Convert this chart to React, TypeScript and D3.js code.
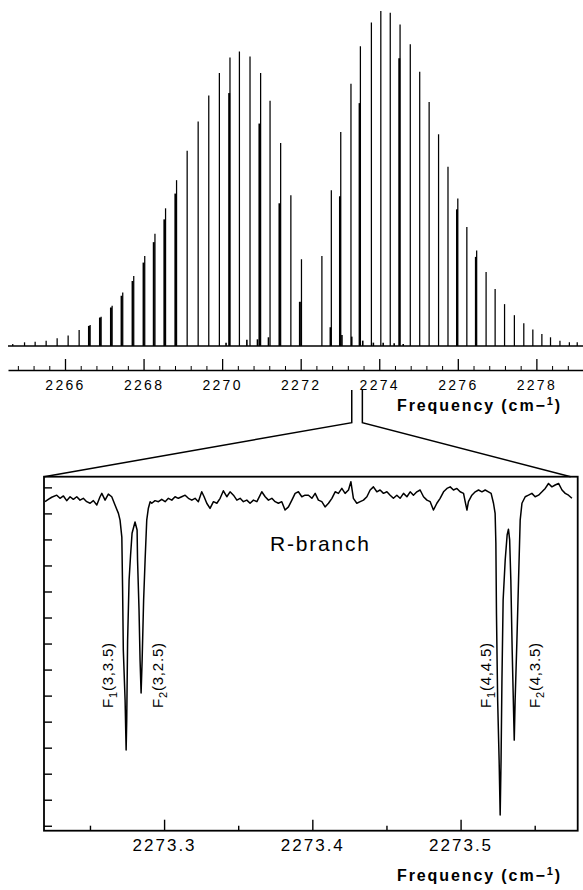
import React, { useRef, useEffect } from 'react';
import * as d3 from 'd3';

const W = 583;
const H = 890;

// survey spectrum: line positions (cm-1) and relative intensities
const lineFreqs = [
  2264.67, 2264.97, 2265.24, 2265.52, 2265.80, 2266.08, 2266.36, 2266.64, 2266.92, 2267.20,
  2267.47, 2267.75, 2268.03, 2268.29, 2268.56, 2268.84, 2269.11, 2269.39, 2269.66, 2269.93,
  2270.20, 2270.44, 2270.71, 2270.98, 2271.22, 2271.49, 2271.75, 2272.02, 2272.54, 2272.78,
  2273.02, 2273.28, 2273.52, 2273.80, 2274.04, 2274.28, 2274.53, 2274.79, 2275.03, 2275.27,
  2275.51, 2275.75, 2276.00, 2276.23, 2276.48, 2276.72, 2276.95, 2277.19, 2277.44, 2277.68,
  2277.91, 2278.14, 2278.36, 2278.60, 2278.84, 2279.04
];
const lineInts = [
  0.6, 1.1, 1.3, 1.6, 2.3, 3.1, 4.8, 6.3, 8.7, 12.0,
  16.0, 20.9, 26.9, 33.5, 41.1, 49.5, 58.3, 67.0, 74.8, 81.5,
  86.1, 87.9, 86.4, 81.5, 73.2, 60.6, 45.0, 25.9, 26.9, 46.5,
  63.9, 78.3, 89.5, 96.6, 100, 99.5, 96.0, 90.1, 81.9, 72.8,
  63.2, 53.5, 44.0, 35.5, 28.5, 22.1, 17.0, 12.5, 9.2, 6.8,
  4.9, 3.6, 2.6, 1.6, 1.1, 1.1
];

// weaker doublet partners (drawn heavier)
const partnerFreqs = [
  2266.61, 2266.89, 2267.17, 2267.44, 2267.72, 2268.00, 2268.26, 2268.53, 2268.81, 2270.18,
  2270.95, 2271.46, 2271.98, 2272.76, 2273.00, 2273.50, 2274.51, 2275.98, 2276.46
];
const partnerInts = [
  6.0, 8.5, 11.5, 15.0, 19.4, 24.9, 31.0, 37.8, 45.5, 75.5,
  66.4, 42.6, 13.2, 5.6, 44.7, 72.5, 85.9, 40.8, 26.6
];

// small hot-band stubs near the baseline
const hotFreqs = [2270.10, 2270.63, 2270.90, 2271.18, 2273.05, 2273.30, 2273.58, 2273.85, 2274.10, 2274.38, 2274.61];
const hotInts = [1.0, 1.9, 2.0, 2.6, 3.3, 2.8, 1.6, 1.0, 1.0, 0.8, 0.6];

const topMajorTicks = [2266, 2268, 2270, 2272, 2274, 2276, 2278];
// where the zoom window sits on the survey axis
const markFreqs = [2273.30, 2273.57];

// zoomed diode-laser trace
const zoomFreqs = [
  2273.2197, 2273.2219, 2273.2242, 2273.2276, 2273.2298, 2273.2321, 2273.2343, 2273.2366, 2273.2388, 2273.2411,
  2273.2433, 2273.2455, 2273.2478, 2273.2501, 2273.2523, 2273.2546, 2273.2568, 2273.2580, 2273.2602, 2273.2624,
  2273.2647, 2273.2669, 2273.2692, 2273.2703, 2273.2715, 2273.2720, 2273.2725, 2273.2737, 2273.2744, 2273.2748,
  2273.2754, 2273.2764, 2273.2774, 2273.2784, 2273.2804, 2273.2818, 2273.2821, 2273.2831, 2273.2838, 2273.2845,
  2273.2852, 2273.2862, 2273.2872, 2273.2883, 2273.2894, 2273.2906, 2273.2917, 2273.2939, 2273.2962, 2273.2984,
  2273.3007, 2273.3029, 2273.3052, 2273.3074, 2273.3096, 2273.3119, 2273.3142, 2273.3164, 2273.3187, 2273.3209,
  2273.3231, 2273.3254, 2273.3270, 2273.3288, 2273.3310, 2273.3333, 2273.3356, 2273.3378, 2273.3400, 2273.3423,
  2273.3445, 2273.3468, 2273.3491, 2273.3513, 2273.3535, 2273.3558, 2273.3580, 2273.3603, 2273.3626, 2273.3648,
  2273.3659, 2273.3682, 2273.3704, 2273.3727, 2273.3749, 2273.3771, 2273.3794, 2273.3816, 2273.3839, 2273.3862,
  2273.3884, 2273.3906, 2273.3929, 2273.3951, 2273.3974, 2273.3997, 2273.4019, 2273.4041, 2273.4064, 2273.4086,
  2273.4109, 2273.4132, 2273.4154, 2273.4176, 2273.4199, 2273.4221, 2273.4244, 2273.4260, 2273.4277, 2273.4300,
  2273.4323, 2273.4345, 2273.4368, 2273.4390, 2273.4412, 2273.4435, 2273.4457, 2273.4480, 2273.4503, 2273.4525,
  2273.4547, 2273.4570, 2273.4592, 2273.4615, 2273.4638, 2273.4660, 2273.4682, 2273.4705, 2273.4727, 2273.4750,
  2273.4773, 2273.4795, 2273.4817, 2273.4840, 2273.4862, 2273.4885, 2273.4908, 2273.4930, 2273.4952, 2273.4975,
  2273.4997, 2273.5020, 2273.5031, 2273.5043, 2273.5053, 2273.5076, 2273.5099, 2273.5121, 2273.5144, 2273.5166,
  2273.5188, 2273.5206, 2273.5222, 2273.5233, 2273.5238, 2273.5242, 2273.5250, 2273.5260, 2273.5267, 2273.5273,
  2273.5279, 2273.5287, 2273.5301, 2273.5314, 2273.5323, 2273.5331, 2273.5339, 2273.5348, 2273.5362, 2273.5368,
  2273.5380, 2273.5391, 2273.5402, 2273.5414, 2273.5436, 2273.5458, 2273.5481, 2273.5503, 2273.5526, 2273.5549,
  2273.5571, 2273.5593, 2273.5616, 2273.5638, 2273.5661, 2273.5684, 2273.5706, 2273.5728, 2273.5751
];
const zoomSignal = [
  12.45, 12.54, 12.62, 12.70, 12.58, 12.67, 12.49, 12.64, 12.54, 12.64,
  12.51, 12.58, 12.45, 12.39, 12.49, 12.32, 12.64, 12.77, 12.51, 12.74,
  12.64, 12.32, 12.00, 11.74, 11.09, 9.17, 6.75, 4.83, 2.91, 4.06,
  7.13, 9.44, 10.40, 11.24, 11.67, 11.36, 10.21, 8.29, 6.37, 5.10,
  6.37, 8.67, 10.21, 11.74, 12.20, 12.45, 12.39, 12.49, 12.45, 12.54,
  12.45, 12.58, 12.51, 12.64, 12.58, 12.64, 12.70, 12.58, 12.51, 12.58,
  12.45, 12.83, 12.64, 12.39, 12.19, 12.45, 12.39, 12.58, 12.87, 12.64,
  12.83, 12.70, 12.51, 12.58, 12.45, 12.51, 12.39, 12.51, 12.45, 12.70,
  12.83, 12.64, 12.51, 12.58, 12.45, 12.39, 12.45, 12.13, 12.25, 12.51,
  12.77, 12.83, 12.64, 12.70, 12.70, 12.58, 12.77, 12.51, 12.45, 12.25,
  12.39, 12.58, 12.83, 12.77, 12.96, 12.77, 12.90, 13.22, 12.58, 12.39,
  12.45, 12.51, 12.64, 12.90, 13.02, 12.83, 12.90, 12.77, 12.83, 12.70,
  12.58, 12.70, 12.58, 12.77, 12.64, 12.83, 12.70, 12.83, 12.90, 12.64,
  12.51, 12.45, 12.13, 12.39, 12.58, 12.83, 12.96, 13.02, 12.90, 12.96,
  12.83, 12.77, 12.45, 12.13, 12.45, 12.70, 12.83, 12.90, 12.83, 12.90,
  12.83, 12.77, 12.39, 12.00, 10.86, 8.17, 4.83, 2.52, 0.41, 2.52,
  5.60, 8.67, 10.21, 11.17, 11.39, 10.98, 9.44, 6.75, 3.29, 4.83,
  7.13, 9.44, 11.74, 12.39, 12.64, 12.70, 12.77, 12.64, 12.70, 12.83,
  12.96, 13.15, 13.02, 13.09, 13.15, 12.90, 12.77, 12.70, 12.58
];

const zoomMajorTicks = [2273.3, 2273.4, 2273.5];
const zoomMinorTicks = [2273.25, 2273.35, 2273.45, 2273.55];
const zoomYTicks = [0, 1, 2, 3, 4, 5, 6, 7, 8, 9, 10, 11, 12, 13];

// assignment labels: sub index, quantum numbers, anchor frequency
const labelSubs = ['1', '2', '1', '2'];
const labelNums = ['(3,3.5)', '(3,2.5)', '(4,4.5)', '(4,3.5)'];
const labelFreqs = [2273.2656, 2273.2993, 2273.5207, 2273.5537];

const FONT = "'Liberation Sans', Arial, Helvetica, sans-serif";

function App() {
  const svgRef = useRef<SVGSVGElement>(null);

  useEffect(() => {
    const svg = d3.select(svgRef.current);
    svg.selectAll('*').remove();

    // ---------- survey panel ----------
    const x = d3.scaleLinear().domain([2264.549, 2279.187]).range([8, 583]);
    const yTop = d3.scaleLinear().domain([0, 100]).range([346, 11]);
    const top = svg.append('g');

    top.append('line')
      .attr('x1', 8).attr('x2', 583).attr('y1', yTop(0)).attr('y2', yTop(0))
      .attr('stroke', '#000').attr('stroke-width', 1.6);

    top.append('g').selectAll('line')
      .data(hotFreqs.map((f, i) => [f, hotInts[i]]))
      .join('line')
      .attr('x1', d => x(d[0])).attr('x2', d => x(d[0]))
      .attr('y1', yTop(0)).attr('y2', d => yTop(d[1]))
      .attr('stroke', '#000').attr('stroke-width', 1.6);

    top.append('g').selectAll('line')
      .data(partnerFreqs.map((f, i) => [f, partnerInts[i]]))
      .join('line')
      .attr('x1', d => x(d[0])).attr('x2', d => x(d[0]))
      .attr('y1', yTop(0)).attr('y2', d => yTop(d[1]))
      .attr('stroke', '#000').attr('stroke-width', 2);

    top.append('g').selectAll('line')
      .data(lineFreqs.map((f, i) => [f, lineInts[i]]))
      .join('line')
      .attr('x1', d => x(d[0])).attr('x2', d => x(d[0]))
      .attr('y1', yTop(0)).attr('y2', d => yTop(d[1]))
      .attr('stroke', '#000').attr('stroke-width', 1.25);

    // axis with upward ticks
    const minor = d3.range(2264.8, 2279.2, 0.4).filter(v => !topMajorTicks.some(m => Math.abs(m - v) < 0.01));
    top.append('g')
      .attr('transform', 'translate(0,370)')
      .call(d3.axisBottom(x).tickValues(minor).tickSizeInner(-4).tickSizeOuter(0).tickFormat(() => ''))
      .call(g => g.select('.domain').remove());
    const ax = top.append('g')
      .attr('transform', 'translate(0,370)')
      .call(d3.axisBottom(x).tickValues(topMajorTicks).tickSizeInner(-11).tickSizeOuter(0)
        .tickPadding(10).tickFormat(d3.format('d')));
    ax.select('.domain').attr('stroke-width', 1.6);
    ax.selectAll('.tick line').attr('stroke-width', 1.3);
    ax.selectAll('text')
      .attr('font-family', FONT).attr('font-size', 14).attr('letter-spacing', 2.3)
      .attr('fill', '#000');

    const t1 = top.append('text')
      .attr('x', 397).attr('y', 411)
      .attr('font-family', FONT).attr('font-size', 16).attr('font-weight', 'bold')
      .attr('letter-spacing', 1.9);
    t1.append('tspan').text('Frequency (cm\u2212');
    t1.append('tspan').attr('dy', -6).attr('font-size', 11).text('1');
    t1.append('tspan').attr('dy', 6).text(')');

    // ---------- zoom panel ----------
    const L = 44, R = 577.7, T = 476.7, B = 830.7;
    const xz = d3.scaleLinear().domain([2273.219, 2273.579]).range([L, R]);
    const yz = d3.scaleLinear().domain([-0.19, 13.41]).range([B, T]);

    // connector from survey axis to the zoom frame
    const [m0, m1] = markFreqs.map(f => x(f));
    svg.append('path')
      .attr('d', `M${L},${T} L${m0},422.7 L${m0},390 M${m1},390 L${m1},422.7 L${R - 7},${T}`)
      .attr('fill', 'none').attr('stroke', '#000').attr('stroke-width', 1.5);

    const bottom = svg.append('g');
    bottom.append('g')
      .attr('transform', `translate(${L},0)`)
      .call(d3.axisRight(yz).tickValues(zoomYTicks).tickSizeInner(8).tickSizeOuter(0).tickFormat(() => ''))
      .call(g => g.select('.domain').remove())
      .selectAll('.tick line').attr('stroke-width', 1.4);

    bottom.append('g')
      .attr('transform', `translate(0,${B})`)
      .call(d3.axisBottom(xz).tickValues(zoomMinorTicks).tickSizeInner(-5).tickSizeOuter(0).tickFormat(() => ''))
      .call(g => g.select('.domain').remove())
      .selectAll('.tick line').attr('stroke-width', 1.4);

    const bx = bottom.append('g')
      .attr('transform', `translate(0,${B})`)
      .call(d3.axisBottom(xz).tickValues(zoomMajorTicks).tickSizeInner(-11).tickSizeOuter(0)
        .tickPadding(8).tickFormat(d3.format('.1f')));
    bx.select('.domain').remove();
    bx.selectAll('.tick line').attr('stroke-width', 1.4);
    bx.selectAll('text')
      .attr('font-family', FONT).attr('font-size', 17).attr('letter-spacing', 2)
      .attr('fill', '#000');

    bottom.append('rect')
      .attr('x', L).attr('y', T).attr('width', R - L).attr('height', B - T)
      .attr('fill', 'none').attr('stroke', '#000').attr('stroke-width', 1.8);

    const line = d3.line<number>()
      .x((_, i) => xz(zoomFreqs[i]))
      .y(d => yz(d));
    bottom.append('path')
      .datum(zoomSignal)
      .attr('d', line)
      .attr('fill', 'none').attr('stroke', '#000').attr('stroke-width', 1.5)
      .attr('stroke-linejoin', 'round');

    bottom.append('text')
      .attr('x', 270).attr('y', 551)
      .attr('font-family', FONT).attr('font-size', 21).attr('letter-spacing', 1.8)
      .text('R-branch');

    labelFreqs.forEach((f, i) => {
      const tx = bottom.append('text')
        .attr('transform', `translate(${xz(f)},708) rotate(-90)`)
        .attr('font-family', FONT).attr('font-size', 15).attr('letter-spacing', 0.8);
      tx.append('tspan').text('F');
      tx.append('tspan').attr('dy', 4).attr('font-size', 11).text(labelSubs[i]);
      tx.append('tspan').attr('dy', -4).text(labelNums[i]);
    });

    const t2 = bottom.append('text')
      .attr('x', 397).attr('y', 881)
      .attr('font-family', FONT).attr('font-size', 16).attr('font-weight', 'bold')
      .attr('letter-spacing', 1.9);
    t2.append('tspan').text('Frequency (cm\u2212');
    t2.append('tspan').attr('dy', -6).attr('font-size', 11).text('1');
    t2.append('tspan').attr('dy', 6).text(')');
  }, []);

  return (
    <div style={{ position: 'absolute', left: 0, top: 0 }}>
      <svg ref={svgRef} width={W} height={H} style={{ display: 'block', background: '#fff' }} />
    </div>
  );
}

export default App;
